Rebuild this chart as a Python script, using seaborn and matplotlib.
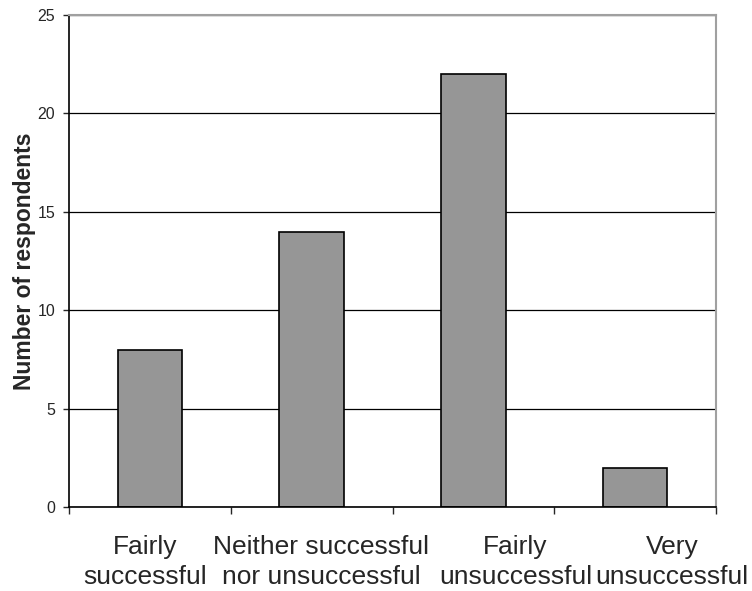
import matplotlib
matplotlib.use('Agg')
import matplotlib.pyplot as plt
import numpy as np
import pandas as pd
import seaborn as sns

# Data
categories = ['Fairly\nsuccessful', 'Neither successful\nnor unsuccessful',
              'Fairly\nunsuccessful', 'Very\nunsuccessful']
respondents = [8, 14, 22, 2]
y_ticks = [0, 5, 10, 15, 20, 25]

df = pd.DataFrame({'category': categories, 'count': respondents})

sns.set_style('white')
plt.rcParams['font.family'] = ['Liberation Sans', 'DejaVu Sans']

fig = plt.figure(figsize=(7.52, 5.91), dpi=100)
ax = fig.add_axes([0.0918, 0.142, 0.8603, 0.8326])

# Gridlines behind bars
ax.set_axisbelow(True)
ax.yaxis.grid(True, color='black', linewidth=0.9)

sns.barplot(ax=ax, data=df, x='category', y='count', color='#969696',
            width=0.4, edgecolor='black', linewidth=1.2, saturation=1)

ax.set_xlim(-0.5, len(categories) - 0.5)
ax.set_ylim(0, 25)
ax.set_yticks(y_ticks)
ax.tick_params(axis='y', labelsize=11.5, length=4, width=1, direction='out', left=True, pad=6)

# Category labels (Excel squeezes them sideways), boundary ticks as minor ticks
label_shift = [-0.03, 0.06, 0.26, 0.23]
ax.set_xticks(np.arange(len(categories)) + np.array(label_shift))
ax.set_xticklabels(categories, fontsize=19, linespacing=1.3)
ax.tick_params(axis='x', which='major', length=0, pad=20)
ax.set_xticks(np.arange(-0.5, len(categories), 1), minor=True)
ax.tick_params(axis='x', which='minor', length=5, width=1, direction='out', bottom=True)

ax.set_xlabel('')
ax.set_ylabel('Number of respondents', fontsize=16.5, fontweight='bold', labelpad=1)

# Spines
for side in ['left', 'bottom']:
    ax.spines[side].set_color('black')
    ax.spines[side].set_linewidth(1.2)
for side in ['top', 'right']:
    ax.spines[side].set_color('#a0a0a0')
    ax.spines[side].set_linewidth(1.5)

fig.savefig('out.png', dpi=100)
